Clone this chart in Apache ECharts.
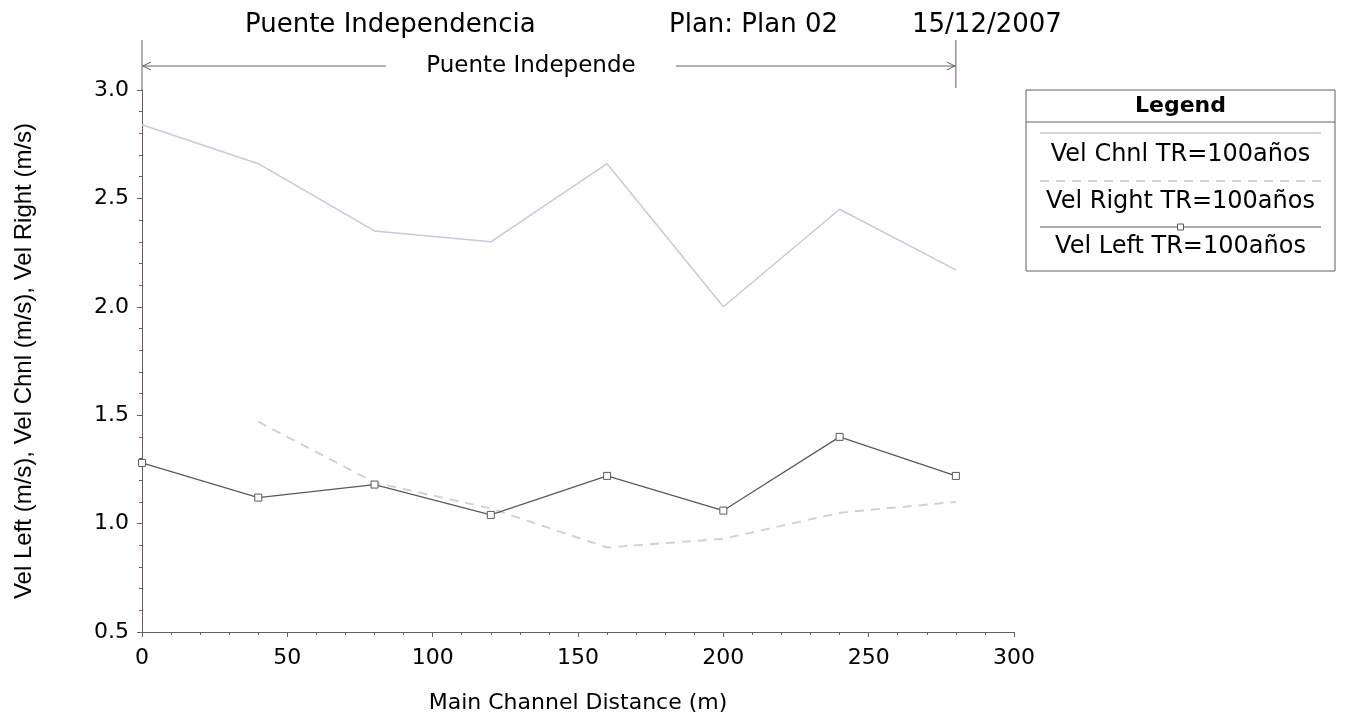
<!DOCTYPE html>
<html>
<head>
<meta charset="utf-8">
<script src="https://cdn.jsdelivr.net/npm/echarts@6/dist/echarts.min.js"></script>
<style>html,body{margin:0;padding:0;background:#fff;}#c{width:1354px;height:719px;}</style>
</head>
<body>
<div id="c"></div>
<script>
const titleParts = ['Puente Independencia', 'Plan: Plan 02', '15/12/2007'];
const xAxisName = 'Main Channel Distance (m)';
const yAxisName = 'Vel Left (m/s), Vel Chnl (m/s), Vel Right (m/s)';
const bridgeLabel = 'Puente Independe';
const bridgeStart = 0;
const bridgeEnd = 280;
const distances = [0, 40, 80, 120, 160, 200, 240, 280];
const velChnl = [2.84, 2.66, 2.35, 2.30, 2.66, 2.00, 2.45, 2.17];
const velRight = [null, 1.47, 1.19, 1.07, 0.89, 0.93, 1.05, 1.10];
const velLeft = [1.28, 1.12, 1.18, 1.04, 1.22, 1.06, 1.40, 1.22];
const seriesNames = ['Vel Chnl TR=100años', 'Vel Right TR=100años', 'Vel Left TR=100años'];
const legendTitle = 'Legend';

const FONT = 'DejaVu Sans, Liberation Sans, sans-serif';
const AXIS_COLOR = '#6b5a6b';
const chnlColor = '#cdc6dc';
const rightColor = '#d2d2d2';
const leftColor = '#5a5a5a';

const pair = (xs, ys) => xs.map((x, i) => [x, ys[i]]);

const chart = echarts.init(document.getElementById('c'), null, {renderer: 'canvas'});
chart.setOption({
  animation: false,
  backgroundColor: '#fff',
  title: {
    text: '{a|' + titleParts[0] + '}{b|' + titleParts[1] + '}{c|' + titleParts[2] + '}',
    left: 240, top: 7,
    textStyle: {
      fontFamily: FONT, fontSize: 26, fontWeight: 'normal', color: '#000',
      rich: {
        a: {fontFamily: FONT, fontSize: 26, color: '#000', width: 424, align: 'left'},
        b: {fontFamily: FONT, fontSize: 26, color: '#000', width: 243, align: 'left'},
        c: {fontFamily: FONT, fontSize: 26, color: '#000', align: 'left'}
      }
    }
  },
  grid: {left: 142, right: 340, top: 90, bottom: 87, containLabel: false},
  xAxis: {
    type: 'value', min: 0, max: 300, interval: 50,
    name: xAxisName, nameLocation: 'middle', nameGap: 60,
    nameTextStyle: {fontFamily: FONT, fontSize: 22, color: '#000'},
    axisLine: {show: true, lineStyle: {color: AXIS_COLOR, width: 1}},
    axisTick: {show: true, inside: false, length: 5, lineStyle: {color: AXIS_COLOR}},
    minorTick: {show: true, splitNumber: 5, length: 3, lineStyle: {color: AXIS_COLOR}},
    axisLabel: {fontFamily: FONT, fontSize: 22, color: '#000', margin: 15},
    splitLine: {show: false}
  },
  yAxis: {
    type: 'value', min: 0.5, max: 3.0, interval: 0.5,
    name: yAxisName, nameLocation: 'middle', nameGap: 106, nameRotate: 90,
    nameTextStyle: {fontFamily: 'Liberation Sans, Arial, sans-serif', fontSize: 24, color: '#000'},
    axisLine: {show: true, lineStyle: {color: AXIS_COLOR, width: 1}},
    axisTick: {show: true, inside: false, length: 5, lineStyle: {color: AXIS_COLOR}},
    minorTick: {show: true, splitNumber: 5, length: 3, lineStyle: {color: AXIS_COLOR}},
    axisLabel: {fontFamily: FONT, fontSize: 22, color: '#000', margin: 13,
      formatter: v => v.toFixed(1)},
    splitLine: {show: false}
  },
  series: [
    {name: seriesNames[0], type: 'line', data: pair(distances, velChnl), symbol: 'none',
      lineStyle: {color: chnlColor, width: 1.5}},
    {name: seriesNames[1], type: 'line', data: pair(distances, velRight), symbol: 'none',
      lineStyle: {color: rightColor, width: 2, type: [9, 7]}},
    {name: seriesNames[2], type: 'line', data: pair(distances, velLeft), symbol: 'rect', symbolSize: 7,
      itemStyle: {color: '#fff', borderColor: leftColor, borderWidth: 1},
      lineStyle: {color: leftColor, width: 1.2}}
  ]
});

// Bridge marker and legend drawn via graphic, positioned through the chart's scales
const pS = chart.convertToPixel({gridIndex: 0}, [bridgeStart, 3.0]);
const pE = chart.convertToPixel({gridIndex: 0}, [bridgeEnd, 3.0]);
const topY = pS[1] - 50;
const arrowY = pS[1] - 24;
const midX = (pS[0] + pE[0]) / 2 - 18;
const g = [];
g.push({type: 'line', shape: {x1: pS[0], y1: topY, x2: pS[0], y2: pS[1]}, style: {stroke: AXIS_COLOR, lineWidth: 1}});
g.push({type: 'line', shape: {x1: pE[0], y1: topY, x2: pE[0], y2: pS[1] - 2}, style: {stroke: AXIS_COLOR, lineWidth: 1}});
g.push({type: 'line', shape: {x1: pS[0], y1: arrowY, x2: midX - 145, y2: arrowY}, style: {stroke: AXIS_COLOR, lineWidth: 1}});
g.push({type: 'line', shape: {x1: midX + 145, y1: arrowY, x2: pE[0], y2: arrowY}, style: {stroke: AXIS_COLOR, lineWidth: 1}});
g.push({type: 'polyline', shape: {points: [[pS[0] + 9, arrowY - 4], [pS[0] + 1, arrowY], [pS[0] + 9, arrowY + 4]]}, style: {stroke: AXIS_COLOR, fill: null, lineWidth: 1}});
g.push({type: 'polyline', shape: {points: [[pE[0] - 9, arrowY - 4], [pE[0] - 1, arrowY], [pE[0] - 9, arrowY + 4]]}, style: {stroke: AXIS_COLOR, fill: null, lineWidth: 1}});
g.push({type: 'text', x: midX, y: arrowY, style: {text: bridgeLabel, font: '23px ' + FONT, fill: '#000', textAlign: 'center', textVerticalAlign: 'middle'}});

// Legend box
const bx = 1026, by = 90, bw = 309, bh = 181;
g.push({type: 'rect', shape: {x: bx, y: by, width: bw, height: bh}, style: {stroke: AXIS_COLOR, fill: '#fff', lineWidth: 1}});
g.push({type: 'line', shape: {x1: bx, y1: by + 32, x2: bx + bw, y2: by + 32}, style: {stroke: AXIS_COLOR, lineWidth: 1}});
g.push({type: 'text', x: bx + bw / 2, y: by + 16, style: {text: legendTitle, font: 'bold 22px ' + FONT, fill: '#000', textAlign: 'center', textVerticalAlign: 'middle'}});
const rowStyles = [
  {stroke: chnlColor, lineWidth: 1.5, lineDash: null},
  {stroke: rightColor, lineWidth: 2, lineDash: [9, 7]},
  {stroke: leftColor, lineWidth: 1.2, lineDash: null}
];
const lineYs = [by + 43, by + 91, by + 137];
const textYs = [by + 65, by + 112, by + 157];
for (let i = 0; i < 3; i++) {
  g.push({type: 'line', shape: {x1: bx + 14, y1: lineYs[i], x2: bx + bw - 14, y2: lineYs[i]}, style: rowStyles[i]});
  g.push({type: 'text', x: bx + bw / 2, y: textYs[i], style: {text: seriesNames[i], font: '24px ' + FONT, fill: '#000', textAlign: 'center', textVerticalAlign: 'middle'}});
}
g.push({type: 'rect', shape: {x: bx + bw / 2 - 3, y: lineYs[2] - 3, width: 6, height: 6}, style: {stroke: leftColor, fill: '#fff', lineWidth: 1}});
chart.setOption({graphic: g});
</script>
</body>
</html>
